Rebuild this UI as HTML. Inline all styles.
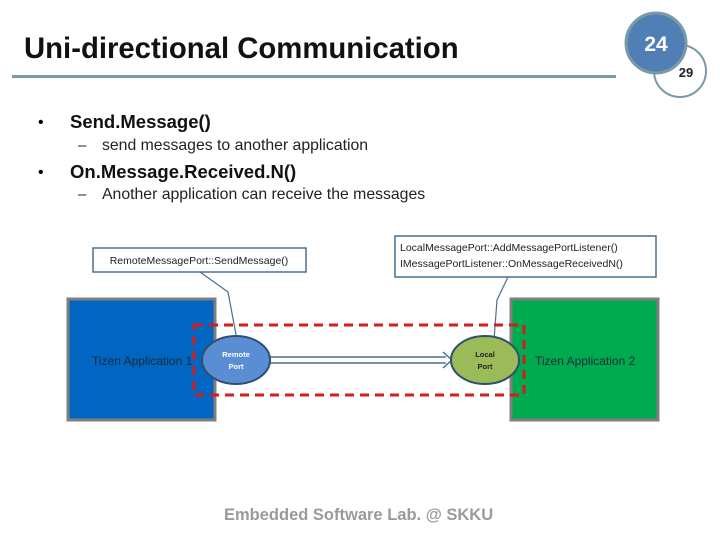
<!DOCTYPE html>
<html><head><style>
body{margin:0;width:720px;height:540px;background:#fff;position:relative;overflow:hidden;font-family:"Liberation Sans",sans-serif}
.a{position:absolute;white-space:nowrap}
</style></head><body>
<div class="a" style="left:24px;top:32px;font-size:29.3px;font-weight:bold;color:#111">Uni-directional Communication</div>
<div class="a" style="left:12px;top:75px;width:604px;height:3px;background:#7a9aa6"></div>
<svg class="a" style="left:0;top:0" width="720" height="540">
<circle cx="680" cy="71" r="26" fill="#fff" stroke="#7a9aa6" stroke-width="2"/>
<circle cx="656" cy="43" r="30" fill="#4f7fb5" stroke="#7a9aa6" stroke-width="3"/>
<text x="656" y="51" font-size="21" font-weight="bold" fill="#fff" text-anchor="middle" font-family="Liberation Sans">24</text>
<text x="686" y="77" font-size="13" font-weight="bold" fill="#222" text-anchor="middle" font-family="Liberation Sans">29</text>
<rect x="68" y="299" width="147" height="121" fill="#0066c2" stroke="#7f7f7f" stroke-width="3"/>
<rect x="511" y="299" width="147" height="121" fill="#00aa4f" stroke="#7f7f7f" stroke-width="3"/>
<rect x="93" y="248" width="213" height="24" fill="#fff" stroke="#4a6f8f" stroke-width="1.5"/>
<rect x="395" y="236" width="261" height="41" fill="#fff" stroke="#4a6f8f" stroke-width="1.5"/>
<polyline points="200,272 228,292 237,340" fill="none" stroke="#4a6f8f" stroke-width="1.2"/>
<polyline points="508,277 497,300 494,340" fill="none" stroke="#4a6f8f" stroke-width="1.2"/>
<line x1="270" y1="357" x2="446" y2="357" stroke="#4a6f8f" stroke-width="1.5"/>
<line x1="270" y1="363" x2="446" y2="363" stroke="#4a6f8f" stroke-width="1.5"/>
<path d="M443,352 L452,360 L443,368" fill="none" stroke="#4a6f8f" stroke-width="1.5"/>
<ellipse cx="236" cy="360" rx="34" ry="24" fill="#5a8ed4" stroke="#2f4f6f" stroke-width="2"/>
<ellipse cx="485" cy="360" rx="34" ry="24" fill="#9bbb59" stroke="#2f4f6f" stroke-width="2"/>
<rect x="194" y="325" width="330" height="70" fill="none" stroke="#d21e1e" stroke-width="3" stroke-dasharray="9,6"/>
<g font-family="Liberation Sans" font-size="10.5" fill="#222">
<text x="199" y="264" text-anchor="middle">RemoteMessagePort::SendMessage()</text>
<text x="400" y="251">LocalMessagePort::AddMessagePortListener()</text>
<text x="400" y="267">IMessagePortListener::OnMessageReceivedN()</text>
</g>
<g font-family="Liberation Sans" font-size="7.5" font-weight="bold" text-anchor="middle">
<text x="236" y="357" fill="#fff">Remote</text><text x="236" y="369" fill="#fff">Port</text>
<text x="485" y="357" fill="#222">Local</text><text x="485" y="369" fill="#222">Port</text>
</g>
<g font-family="Liberation Sans" font-size="12" fill="#1a2a3a">
<text x="92" y="365">Tizen Application 1</text>
<text x="535" y="365">Tizen Application 2</text>
</g>
</svg>
<div class="a" style="left:38px;top:114px;font-size:16px">•</div>
<div class="a" style="left:70px;top:111px;font-size:18.5px;font-weight:bold;color:#111">Send.Message()</div>
<div class="a" style="left:78px;top:137px;font-size:15px;color:#222">–</div>
<div class="a" style="left:102px;top:137px;font-size:15.8px;color:#222">send messages to another application</div>
<div class="a" style="left:38px;top:164px;font-size:16px">•</div>
<div class="a" style="left:70px;top:161px;font-size:18.5px;font-weight:bold;color:#111">On.Message.Received.N()</div>
<div class="a" style="left:78px;top:186px;font-size:15px;color:#222">–</div>
<div class="a" style="left:102px;top:186px;font-size:15.8px;color:#222">Another application can receive the messages</div>
<div class="a" style="left:224px;top:506px;font-size:16.5px;font-weight:bold;color:#9a9a9a">Embedded Software Lab. @ SKKU</div>
</body></html>
